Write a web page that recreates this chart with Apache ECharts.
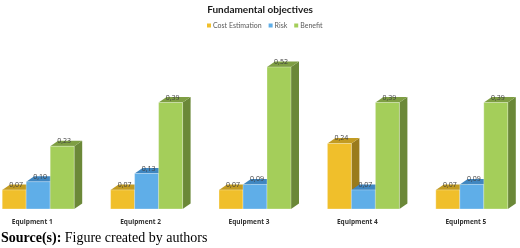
<!DOCTYPE html>
<html>
<head>
<meta charset="utf-8">
<script src="https://cdn.jsdelivr.net/npm/echarts@6/dist/echarts.min.js"></script>
<style>
    html, body { margin: 0; padding: 0; background: #fff; }
    #chart { width: 520px; height: 248px; }
</style>
</head>
<body>
<div id="chart"></div>
<script>
var categories = ['Equipment 1', 'Equipment 2', 'Equipment 3', 'Equipment 4', 'Equipment 5'];
var seriesNames = ['Cost Estimation', 'Risk', 'Benefit'];
var costData = [0.07, 0.07, 0.07, 0.24, 0.07];
var riskData = [0.10, 0.13, 0.09, 0.07, 0.09];
var benefitData = [0.23, 0.39, 0.52, 0.39, 0.39];

// front / top / side colours per series
var faceColors = [
    ['#F0BF2B', '#C29B22', '#9A7B1C'],
    ['#5FAEE8', '#3F86C0', '#316C9C'],
    ['#A4CE5A', '#7E9E43', '#6B8838']
];

var BAR_W = 24, DX = 8, DY = 5.5, SHIFT = 6;

function make3dItem(s) {
    return function (params, api) {
        var idx = api.value(0);
        var val = api.value(1);
        var top = api.coord([idx, val]);
        var base = api.coord([idx, 0]);
        var x0 = top[0] - BAR_W * 1.5 + SHIFT + s * BAR_W;
        var y = top[1], b = base[1];
        var c = faceColors[s];
        return {
            type: 'group',
            children: [
                {
                    type: 'polygon',
                    shape: { points: [[x0 + BAR_W, y], [x0 + BAR_W + DX, y - DY], [x0 + BAR_W + DX, b - DY], [x0 + BAR_W, b]] },
                    style: { fill: c[2] }
                },
                {
                    type: 'polygon',
                    shape: { points: [[x0, y], [x0 + BAR_W, y], [x0 + BAR_W + DX, y - DY], [x0 + DX, y - DY]] },
                    style: { fill: c[1] }
                },
                {
                    type: 'rect',
                    shape: { x: x0, y: y, width: BAR_W, height: b - y },
                    style: { fill: c[0], stroke: 'rgba(255,255,255,0.5)', lineWidth: 0.6 }
                },
                {
                    type: 'text',
                    x: x0 + BAR_W / 2 + 2,
                    y: y - 5,
                    style: {
                        text: val.toFixed(2).replace('.', ','),
                        fill: '#404040',
                        font: '7px "Open Sans", sans-serif',
                        align: 'center',
                        verticalAlign: 'middle'
                    }
                }
            ]
        };
    };
}

var allData = [costData, riskData, benefitData];
var series = [];
for (var s = 0; s < 3; s++) {
    var d = [];
    for (var i = 0; i < categories.length; i++) {
        d.push([i, allData[s][i]]);
    }
    series.push({
        name: seriesNames[s],
        type: 'custom',
        renderItem: make3dItem(s),
        itemStyle: { color: faceColors[s][0] },
        encode: { x: 0, y: 1 },
        clip: false,
        data: d
    });
}

var chart = echarts.init(document.getElementById('chart'));
chart.setOption({
    animation: false,
    title: {
        text: 'Fundamental objectives',
        left: 'center',
        top: 0,
        textStyle: { fontSize: 10, fontWeight: 'bold', color: '#1a1a1a', fontFamily: 'Lato, sans-serif' }
    },
    legend: {
        top: 17,
        left: 202,
        itemWidth: 4,
        itemHeight: 4,
        itemGap: 7,
        icon: 'rect',
        textStyle: { fontSize: 7, color: '#595959', fontFamily: 'Lato, sans-serif', padding: [0, 0, 0, -3] },
        data: seriesNames
    },
    grid: { left: -22, right: 0, top: 67, bottom: 39, outerBoundsMode: 'none', containLabel: false },
    xAxis: {
        type: 'category',
        data: categories,
        axisLine: { show: false },
        axisTick: { show: false },
        axisLabel: { fontSize: 6.5, fontWeight: 'bold', color: '#303030', margin: 10, fontFamily: 'Open Sans, sans-serif' }
    },
    yAxis: {
        type: 'value',
        min: 0,
        max: 0.52,
        show: false
    },
    graphic: [{
        type: 'text',
        left: 1,
        top: 231,
        style: {
            rich: {
                b: { fontFamily: 'Liberation Serif, serif', fontSize: 14, fontWeight: 'bold', fill: '#000' },
                n: { fontFamily: 'Liberation Serif, serif', fontSize: 14, fill: '#000' }
            },
            text: '{b|Source(s):} {n|Figure created by authors}'
        }
    }],
    series: series
});
</script>
</body>
</html>
